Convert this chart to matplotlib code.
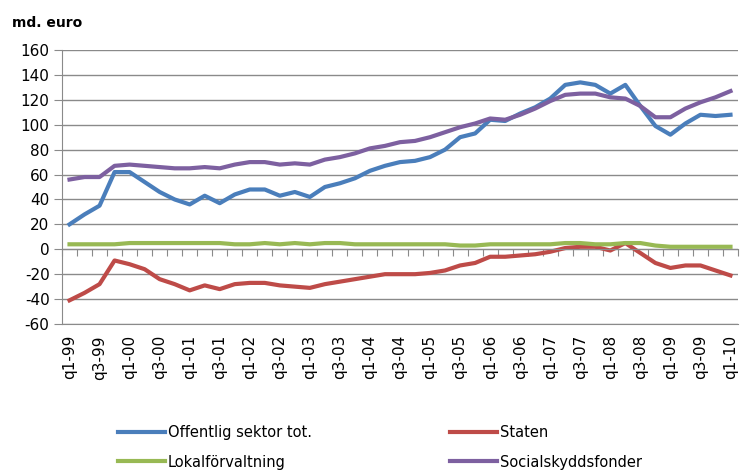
import matplotlib.pyplot as plt
import numpy as np

plt.rcParams["axes.unicode_minus"] = False

# quarters q1-99 .. q1-10
quarters = [f"q{q}-{y:02d}" for y in [99, 0, 1, 2, 3, 4, 5, 6, 7, 8, 9] for q in (1, 2, 3, 4)] + ["q1-10"]

offentlig = [20, 28, 35, 62, 62, 54, 46, 40, 36, 43, 37, 44, 48, 48, 43, 46,
             42, 50, 53, 57, 63, 67, 70, 71, 74, 80, 90, 93, 104, 103, 109, 114,
             121, 132, 134, 132, 125, 132, 115, 99, 92, 101, 108, 107, 108]
staten = [-41, -35, -28, -9, -12, -16, -24, -28, -33, -29, -32, -28, -27, -27, -29, -30,
          -31, -28, -26, -24, -22, -20, -20, -20, -19, -17, -13, -11, -6, -6, -5, -4,
          -2, 1, 2, 2, -1, 5, -3, -11, -15, -13, -13, -17, -21]
lokal = [4, 4, 4, 4, 5, 5, 5, 5, 5, 5, 5, 4, 4, 5, 4, 5,
         4, 5, 5, 4, 4, 4, 4, 4, 4, 4, 3, 3, 4, 4, 4, 4,
         4, 5, 5, 4, 4, 5, 5, 3, 2, 2, 2, 2, 2]
social = [56, 58, 58, 67, 68, 67, 66, 65, 65, 66, 65, 68, 70, 70, 68, 69,
          68, 72, 74, 77, 81, 83, 86, 87, 90, 94, 98, 101, 105, 104, 108, 113,
          119, 124, 125, 125, 122, 121, 115, 106, 106, 113, 118, 122, 127]

series = [("Offentlig sektor tot.", offentlig, "#4a7ebb"),
          ("Staten", staten, "#be4b48"),
          ("Lokalförvaltning", lokal, "#98b954"),
          ("Socialskyddsfonder", social, "#7d60a0")]

fig = plt.figure(figsize=(7.41, 4.72), dpi=100)
ax = fig.add_axes([62 / 741, 1 - 324 / 472, (738 - 62) / 741, (324 - 50) / 472])

x = np.arange(len(quarters))
lines = []
for name, vals, col in series:
    ln, = ax.plot(x, vals, color=col, lw=3, label=name, solid_joinstyle="round")
    lines.append(ln)

ax.set_xlim(-0.5, len(quarters) - 0.5)
ax.set_ylim(-60, 160)
ax.set_yticks(np.arange(-60, 161, 20))
ax.yaxis.grid(True, color="#8a8a8a", lw=1)
ax.set_axisbelow(True)
ax.tick_params(axis="y", length=6, color="#8a8a8a", labelsize=11, pad=3)

for s in ["top", "right"]:
    ax.spines[s].set_visible(False)
ax.spines["left"].set_color("#8a8a8a")
ax.spines["bottom"].set_position(("data", 0))
ax.spines["bottom"].set_color("#8a8a8a")
ax.set_xticks(np.arange(-0.5, len(quarters), 1))
ax.tick_params(axis="x", length=5, color="#8a8a8a", labelbottom=False)

# category labels sit at the bottom, below -60
sec = ax.secondary_xaxis("bottom")
sec.set_xticks(x[::2], quarters[::2], rotation=90)
sec.tick_params(length=0, labelsize=11, pad=8)
sec.spines["bottom"].set_color("#8a8a8a")

fig.text(12 / 741, 1 - 23 / 472, "md. euro", fontsize=10, fontweight="bold", va="center")

# column-wise fill: row 1 Offentlig / Staten, row 2 Lokal / Social
fig.legend(handles=[lines[0], lines[2], lines[1], lines[3]], ncol=2, frameon=False,
           loc="upper left", bbox_to_anchor=(118 / 741, 1 - 425 / 472),
           borderaxespad=0, borderpad=0, fontsize=10.5, handlelength=3.2,
           handletextpad=0.2, columnspacing=9.5, labelspacing=1.0)

fig.savefig("out.png", dpi=100)
